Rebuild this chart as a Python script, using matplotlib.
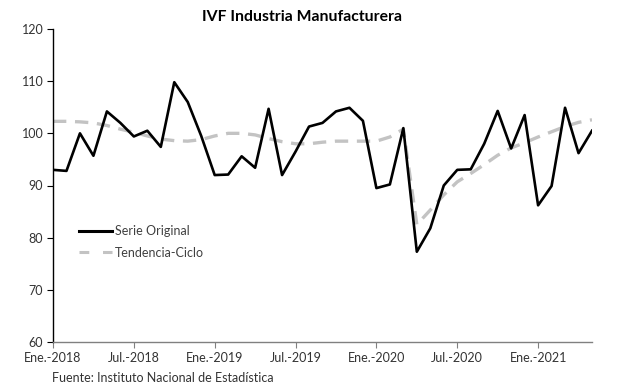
import matplotlib
matplotlib.use("Agg")
import matplotlib.pyplot as plt
from matplotlib.lines import Line2D

plt.rcParams['font.family'] = ['Lato', 'DejaVu Sans']

months = list(range(41))  # Ene.-2018 .. May.-2021
serie_original = [93.0, 92.8, 100.0, 95.7, 104.2, 102.0, 99.4, 100.5, 97.4, 109.8,
                  106.0, 99.5, 92.0, 92.1, 95.6, 93.4, 104.7, 92.0, 96.5, 101.3,
                  102.0, 104.2, 104.9, 102.4, 89.5, 90.2, 101.0, 77.3, 81.8, 90.0,
                  93.0, 93.1, 98.0, 104.3, 97.1, 103.5, 86.2, 89.9, 104.9, 96.2,
                  100.5]
tendencia = [102.3, 102.3, 102.2, 102.0, 101.5, 100.8, 100.2, 99.5, 98.9, 98.6,
             98.5, 98.8, 99.5, 100.0, 100.0, 99.7, 99.0, 98.4, 98.0, 98.0,
             98.3, 98.5, 98.5, 98.5, 98.5, 99.3, 100.8, 82.5, 85.3, 88.2,
             90.7, 92.3, 94.0, 95.8, 97.2, 98.2, 99.3, 100.3, 101.3, 102.1,
             102.6]
tick_pos = [0, 6, 12, 18, 24, 30, 36]
tick_labels = ['Ene.-2018', 'Jul.-2018', 'Ene.-2019', 'Jul.-2019',
               'Ene.-2020', 'Jul.-2020', 'Ene.-2021']
yticks = [60, 70, 80, 90, 100, 110, 120]

fig = plt.figure(figsize=(6.17, 3.87), dpi=100)
ax = fig.add_axes([53/617, 1 - 342/387, (592-53)/617, (342-29)/387])

ax.plot(months, tendencia, color='#c3c3c3', lw=2.4, dashes=(4, 2.6),
        label='Tendencia-Ciclo', zorder=2)
ax.plot(months, serie_original, color='black', lw=1.9, label='Serie Original',
        zorder=3)

ax.set_xlim(0, 40)
ax.set_ylim(60, 120)
ax.set_yticks(yticks)
ax.set_xticks(tick_pos)
ax.set_xticklabels(tick_labels)
for s in ['top', 'right']:
    ax.spines[s].set_visible(False)
ax.spines['left'].set_color('black')
ax.spines['left'].set_linewidth(1.0)
ax.spines['bottom'].set_color('#808080')
ax.spines['bottom'].set_linewidth(1.0)
ax.tick_params(axis='y', length=4, width=0.8, colors='black', labelsize=9,
               labelcolor='#333333', pad=3)
ax.tick_params(axis='x', length=4, width=0.8, colors='#808080', labelsize=9,
               labelcolor='#333333', pad=3)

handles = [Line2D([], [], color='black', lw=2.2),
           Line2D([], [], color='#c3c3c3', lw=2.2, dashes=(3.2, 4.5))]
ax.legend(handles, ['Serie Original', 'Tendencia-Ciclo'], loc='upper left',
          bbox_to_anchor=((68-53)/539, (342-214)/313), frameon=False,
          fontsize=9, handlelength=2.6, handletextpad=0.25, labelspacing=0.75,
          labelcolor='#404040')

fig.text(302/617, 1 - 17/387, 'IVF Industria Manufacturera', ha='center',
         va='center', fontsize=11.3, fontweight='bold')
fig.text(52/617, 1 - 378/387, 'Fuente: Instituto Nacional de Estadística',
         ha='left', va='center', fontsize=9, color='#333333')

fig.savefig('out.png', dpi=100)
